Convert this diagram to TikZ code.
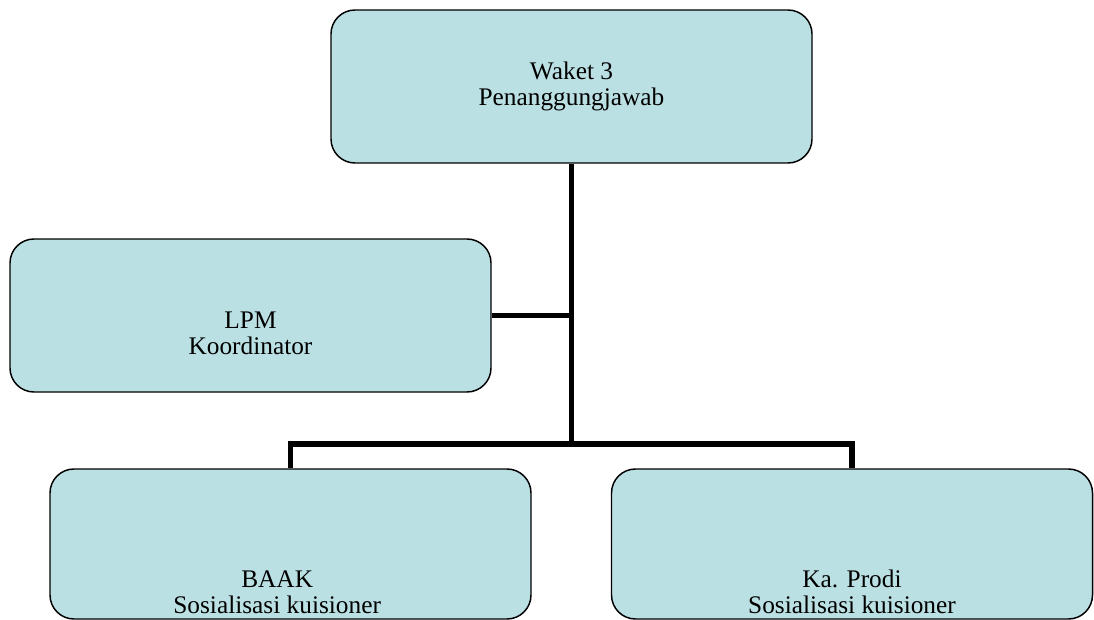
\documentclass[tikz,border=0pt]{standalone}
\usepackage{fontspec}
\setmainfont{Liberation Serif}
\usetikzlibrary{positioning}
\definecolor{boxfill}{RGB}{187,224,227}

\begin{document}
\begin{tikzpicture}[
x=0.75pt, y=-0.75pt,
every node/.style={font=\fontsize{19}{19.5}\selectfont}
]

\tikzstyle{b} = [draw, line width=1.1pt, fill=boxfill, rounded corners=18pt, minimum width=360.75pt, minimum height=114.75pt, inner sep=0pt]
\tikzstyle{bl} = [b, minimum height=112.5pt]
\tikzstyle{t} = [align=center]
\tikzstyle{l} = [line width=4.1pt]

\useasboundingbox (0,0) rectangle (1094,620);

% boxes
\node[b] (waket) at (571.5,86.5) {};
\node[b] (lpm) at (250.5,315.5) {};
\node[bl] (baak) at (290.5,544) {};
\node[bl] (prodi) at (852,544) {};
\coordinate (j) at (571.5,444);

% lines
\draw[l] (waket.south) -- (j);
\draw[l] (lpm.east) -- (lpm.east -| j);
\draw[l] (baak.north) -- (baak.north |- j) -- (prodi.north |- j) -- (prodi.north);

% texts
\node[t] at (waket.center) {Waket 3\\Penanggungjawab};
\node[t] at ([yshift=-13pt]lpm.center) {LPM\\Koordinator};
\node[t] at ([xshift=-10pt,yshift=-36pt]baak.center) {BAAK\\Sosialisasi kuisioner};
\node[t] at ([yshift=-36pt]prodi.center) {Ka. Prodi\\Sosialisasi kuisioner};
\end{tikzpicture}
\end{document}
